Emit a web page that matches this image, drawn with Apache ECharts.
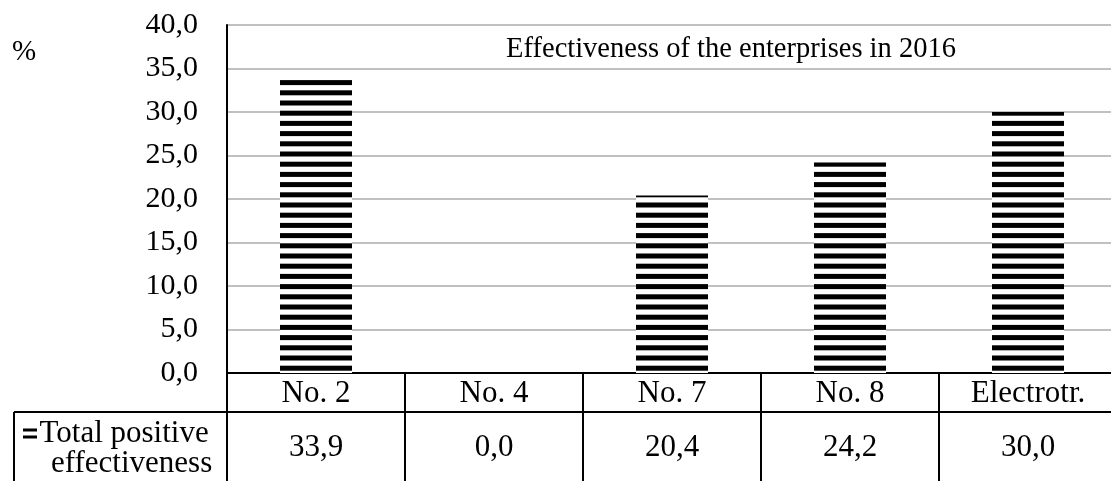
<!DOCTYPE html>
<html><head><meta charset="utf-8">
<script src="https://cdn.jsdelivr.net/npm/echarts@6/dist/echarts.min.js"></script>
<style>html,body{margin:0;padding:0;background:#fff;overflow:hidden}#c{width:1117px;height:481px}</style>
</head><body><div id="c"></div>
<script>
const categories = ['No. 2', 'No. 4', 'No. 7', 'No. 8', 'Electrotr.'];
const values = [33.9, 0.0, 20.4, 24.2, 30.0];
const seriesName = 'Total positive';
const seriesName2 = 'effectiveness';
const yTicks = [0, 5, 10, 15, 20, 25, 30, 35, 40];
const titleText = 'Effectiveness of the enterprises in 2016';

const FONT = '"Liberation Serif", "Times New Roman", serif';
const fmt = v => v.toFixed(1).replace('.', ',');

// horizontal stripe pattern: period 10.2px, black 5px (5 periods in a 51px tile)
const pc = document.createElement('canvas');
pc.width = 10; pc.height = 51;
const pctx = pc.getContext('2d');
pctx.fillStyle = '#fff'; pctx.fillRect(0, 0, 10, 51);
pctx.fillStyle = '#000';
for (let k = 0; k < 5; k++) {
  const s = (8.7 + 10.2 * k) % 51;
  pctx.fillRect(0, s, 10, Math.min(5, 51 - s));
  if (s + 5 > 51) pctx.fillRect(0, 0, 10, s + 5 - 51);
}

const chart = echarts.init(document.getElementById('c'), null, {renderer: 'canvas'});
const gridLeft = 227, gridTop = 25, gridH = 348;
const TS = 31;
chart.setOption({
  animation: false,
  backgroundColor: '#fff',
  title: {
    text: titleText, left: 726, top: 30, textAlign: 'center',
    textStyle: {fontFamily: FONT, fontWeight: 'normal', fontSize: 28.5, color: '#000'}
  },
  legend: {
    show: true, left: 23, top: 418, padding: 0,
    icon: 'path://M0,0H14V3H0Z M0,7H14V10H0Z',
    itemWidth: 15, itemHeight: 10, itemGap: 0,
    itemStyle: {color: '#000'},
    formatter: () => seriesName,
    textStyle: {fontFamily: FONT, fontSize: TS, color: '#000', padding: [0, 0, 0, -3]}
  },
  grid: {left: gridLeft, top: gridTop, height: gridH, right: 0},
  xAxis: [{
    type: 'category', data: categories, position: 'bottom',
    axisLine: {show: true, lineStyle: {color: '#000', width: 2}},
    axisTick: {show: true, length: 39, lineStyle: {color: '#000', width: 2}},
    axisLabel: {fontFamily: FONT, fontSize: TS, color: '#000', margin: 5, interval: 0}
  }, {
    type: 'category', data: categories, position: 'bottom', offset: 39,
    axisLine: {show: true, lineStyle: {color: '#000', width: 2}},
    axisTick: {show: true, length: 80, lineStyle: {color: '#000', width: 2}},
    axisLabel: {fontFamily: FONT, fontSize: TS, color: '#000', margin: 20, interval: 0,
      formatter: (v, i) => fmt(values[i])}
  }],
  yAxis: {
    type: 'value', min: yTicks[0], max: yTicks[yTicks.length - 1], interval: 5,
    name: '%', nameLocation: 'end', nameGap: 0,
    nameTextStyle: {fontFamily: FONT, fontSize: 29, color: '#000', align: 'left', padding: [0, 0, -42, -215]},
    axisLine: {show: true, lineStyle: {color: '#000', width: 2}},
    axisTick: {show: false},
    splitLine: {lineStyle: {color: '#c0c0c0', width: 2}},
    axisLabel: {fontFamily: FONT, fontSize: 30, color: '#000', margin: 29, formatter: v => fmt(v)}
  },
  series: [{
    name: seriesName, type: 'bar', data: values, barWidth: 72, xAxisIndex: 0,
    itemStyle: {color: {image: pc, repeat: 'repeat'}},
    legendHoverLink: false
  }]
});

// second line of the legend text and the table borders left of the axis
const y0 = chart.convertToPixel({yAxisIndex: 0}, 0);
const rowY = y0 + 39;
chart.setOption({
  graphic: [
    {type: 'text', left: 51, top: rowY + 36, style: {text: seriesName2, font: TS + 'px ' + FONT, fill: '#000'}},
    {type: 'line', shape: {x1: 14, y1: rowY, x2: gridLeft, y2: rowY}, style: {stroke: '#000', lineWidth: 2}},
    {type: 'line', shape: {x1: 14, y1: rowY, x2: 14, y2: 481}, style: {stroke: '#000', lineWidth: 2}},
    {type: 'line', shape: {x1: gridLeft, y1: y0, x2: gridLeft, y2: 481}, style: {stroke: '#000', lineWidth: 2}}
  ]
});
</script></body></html>
